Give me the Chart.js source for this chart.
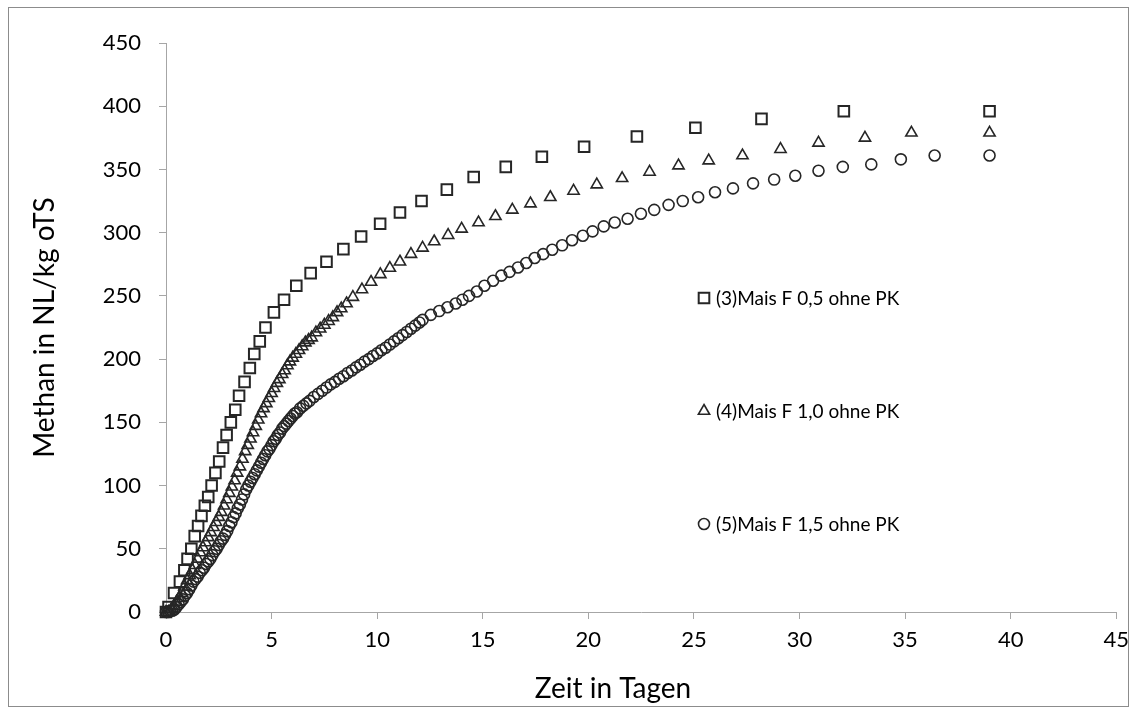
<!DOCTYPE html>
<html>
<head>
<meta charset="utf-8">
<script src="https://cdn.jsdelivr.net/npm/chart.js@4/dist/chart.umd.min.js"></script>
<style>
  html, body { margin: 0; padding: 0; background: #fff; }
  #wrap { width: 1137px; height: 715px; position: relative; }
</style>
</head>
<body>
<div id="wrap"><canvas id="myChart" width="1137" height="715"></canvas></div>
<script>
// (3) Mais F 0,5 ohne PK
const zeit3 = [0, 0.12, 0.38, 0.66, 0.87, 1.02, 1.2, 1.36, 1.52, 1.68, 1.84, 2.0, 2.16, 2.34, 2.52, 2.7, 2.87, 3.07, 3.28, 3.46, 3.72, 3.97, 4.18, 4.44, 4.71, 5.11, 5.59, 6.17, 6.85, 7.6, 8.4, 9.24, 10.14, 11.08, 12.1, 13.3, 14.57, 16.09, 17.8, 19.8, 22.3, 25.07, 28.2, 32.1, 39];
const methan3 = [0, 4, 15, 24, 33, 42, 50, 60, 68, 76, 84, 91, 100, 110, 119, 130, 140, 150, 160, 171, 182, 193, 204, 214, 225, 237, 247, 258, 268, 277, 287, 297, 307, 316, 325, 334, 344, 352, 360, 368, 376, 383, 390, 396, 396];

// (4) Mais F 1,0 ohne PK
const zeit4 = [0, 0.12, 0.25, 0.38, 0.5, 0.62, 0.75, 0.87, 1.0, 1.12, 1.25, 1.37, 1.5, 1.62, 1.75, 1.87, 2.0, 2.12, 2.25, 2.37, 2.5, 2.62, 2.75, 2.87, 3.0, 3.12, 3.25, 3.37, 3.5, 3.62, 3.75, 3.87, 4.0, 4.12, 4.25, 4.37, 4.5, 4.62, 4.75, 4.87, 5.0, 5.12, 5.25, 5.37, 5.5, 5.62, 5.75, 5.87, 6.0, 6.15, 6.3, 6.45, 6.6, 6.75, 6.9, 7.1, 7.3, 7.5, 7.7, 7.9, 8.1, 8.3, 8.55, 8.85, 9.28, 9.71, 10.15, 10.6, 11.08, 11.6, 12.15, 12.7, 13.36, 14.0, 14.8, 15.6, 16.4, 17.26, 18.2, 19.3, 20.4, 21.6, 22.9, 24.27, 25.7, 27.3, 29.1, 30.9, 33.1, 35.3, 39];
const methan4 = [0, 0, 2, 5, 8, 11, 15, 20, 25, 29, 33, 37, 42, 47, 51, 55, 59, 63, 67, 71, 75, 79, 84, 89, 94, 99, 104, 110, 115, 121, 127, 132, 137, 142, 147, 152, 157, 161, 165, 169, 173, 177, 181, 184, 188, 191, 195, 198, 201, 204, 207, 210, 213, 215, 217, 221, 224, 227, 230, 233, 237, 240, 244, 249, 255, 261, 267, 272, 277, 283, 288, 293, 298, 303, 308, 313, 318, 323, 328, 333, 338, 343, 348, 353, 357, 361, 366, 371, 375, 379, 379];

// (5) Mais F 1,5 ohne PK
const zeit5 = [0, 0.1, 0.2, 0.3, 0.4, 0.5, 0.6, 0.7, 0.8, 0.9, 1.0, 1.1, 1.2, 1.3, 1.4, 1.5, 1.6, 1.7, 1.8, 1.9, 2.0, 2.1, 2.2, 2.3, 2.4, 2.5, 2.6, 2.7, 2.8, 2.9, 3.0, 3.1, 3.2, 3.3, 3.4, 3.5, 3.6, 3.7, 3.8, 3.9, 4.0, 4.1, 4.2, 4.3, 4.4, 4.5, 4.6, 4.7, 4.8, 4.9, 5.0, 5.1, 5.2, 5.3, 5.4, 5.5, 5.6, 5.7, 5.8, 5.9, 6.0, 6.1, 6.2, 6.35, 6.5, 6.65, 6.8, 7.0, 7.2, 7.4, 7.6, 7.8, 8.0, 8.2, 8.4, 8.6, 8.8, 9.0, 9.2, 9.4, 9.6, 9.8, 10.0, 10.2, 10.4, 10.6, 10.8, 11.0, 11.2, 11.4, 11.6, 11.8, 12.0, 12.15, 12.54, 12.94, 13.33, 13.72, 14.04, 14.35, 14.72, 15.08, 15.49, 15.88, 16.27, 16.67, 17.06, 17.46, 17.86, 18.29, 18.76, 19.23, 19.74, 20.2, 20.73, 21.25, 21.86, 22.49, 23.12, 23.8, 24.47, 25.2, 26.0, 26.85, 27.8, 28.8, 29.8, 30.9, 32.05, 33.4, 34.8, 36.4, 39];
const methan5 = [0, 0, 1, 1, 2, 4, 6, 8, 10, 13, 15, 18, 21, 24, 26, 28, 31, 33, 35, 38, 40, 42, 45, 48, 50, 53, 56, 58, 61, 64, 68, 71, 75, 78, 82, 85, 89, 93, 97, 100, 103, 106, 109, 112, 115, 118, 121, 124, 127, 129, 132, 135, 137, 140, 142, 145, 147, 149, 151, 153, 155, 157, 158, 161, 163, 165, 167, 170, 172.5, 175, 177.5, 180, 182, 184.5, 186.5, 189, 191, 193.5, 195.5, 198, 200, 202.5, 204.5, 207, 209, 211.5, 214, 216.5, 219, 221.5, 224, 226.5, 229, 231, 235, 238, 241, 244, 247, 250, 253.5, 258, 262, 266, 269, 272.5, 276, 280, 283, 286.5, 290, 294, 297.6, 301, 305, 308, 311, 315, 318, 322, 325, 328, 332, 335, 339, 342, 345, 349, 352, 354, 358, 361, 361];

const seriesNames = ['(3)Mais F 0,5 ohne PK', '(4)Mais F 1,0 ohne PK', '(5)Mais F 1,5 ohne PK'];
const xTitle = 'Zeit in Tagen';
const yTitle = 'Methan in NL/kg oTS';

const FONT = 'Lato, "Open Sans", sans-serif';
const INK = '#262626';

function toPoints(xs, ys) {
    return xs.map((x, i) => ({ x: x, y: ys[i] }));
}

const legendPos = [
    { x: 704, y: 298 },
    { x: 704, y: 411 },
    { x: 704, y: 524 }
];

const decorPlugin = {
    id: 'decor',
    beforeDraw(chart) {
        const ctx = chart.ctx;
        ctx.save();
        ctx.fillStyle = '#fff';
        ctx.fillRect(0, 0, chart.width, chart.height);
        ctx.strokeStyle = '#8c8c8c';
        ctx.lineWidth = 1;
        ctx.strokeRect(8.5, 7.5, 1120, 699);
        ctx.restore();
    },
    afterDraw(chart) {
        const ctx = chart.ctx;
        const area = chart.chartArea;
        ctx.save();
        ctx.fillStyle = '#000';
        ctx.font = '28px ' + FONT;
        ctx.textAlign = 'center';
        ctx.textBaseline = 'middle';
        ctx.fillText(xTitle, 613, 689);
        ctx.translate(45, (area.top + area.bottom) / 2);
        ctx.rotate(-Math.PI / 2);
        ctx.fillText(yTitle, 0, 0);
        ctx.restore();

        // legend inside the plot
        ctx.save();
        chart.data.datasets.forEach((ds, i) => {
            const p = legendPos[i];
            ctx.strokeStyle = ds.borderColor;
            ctx.fillStyle = 'rgba(0,0,0,0)';
            ctx.lineWidth = ds.borderWidth;
            Chart.helpers.drawPoint(ctx, {
                pointStyle: ds.pointStyle,
                radius: ds.pointRadius,
                borderWidth: ds.borderWidth
            }, p.x, p.y);
            ctx.fillStyle = '#000';
            ctx.font = '19px ' + FONT;
            ctx.textAlign = 'left';
            ctx.textBaseline = 'middle';
            ctx.fillText(seriesNames[i], p.x + 12, p.y + 1);
        });
        ctx.restore();
    }
};

const styles = [
    { pointStyle: 'rect', pointRadius: 7.5, borderWidth: 2 },
    { pointStyle: 'triangle', pointRadius: 6.5, borderWidth: 1.6 },
    { pointStyle: 'circle', pointRadius: 5.5, borderWidth: 1.6 }
];
const xs = [zeit3, zeit4, zeit5];
const ys = [methan3, methan4, methan5];

const ctx = document.getElementById('myChart').getContext('2d');
const myChart = new Chart(ctx, {
    type: 'scatter',
    data: {
        datasets: seriesNames.map((name, i) => ({
            label: name,
            data: toPoints(xs[i], ys[i]),
            pointStyle: styles[i].pointStyle,
            pointRadius: styles[i].pointRadius,
            pointHoverRadius: styles[i].pointRadius,
            borderWidth: styles[i].borderWidth,
            borderColor: INK,
            backgroundColor: 'rgba(0,0,0,0)',
            showLine: false,
            clip: false
        }))
    },
    options: {
        responsive: false,
        animation: false,
        layout: { padding: { top: 43, right: 18, left: 0, bottom: 0 } },
        plugins: {
            legend: { display: false },
            tooltip: { enabled: false }
        },
        scales: {
            x: {
                type: 'linear',
                min: 0,
                max: 45,
                ticks: { stepSize: 5, color: '#000', font: { family: FONT, size: 22 }, padding: 8, maxRotation: 0 },
                grid: { drawOnChartArea: false, tickLength: 7, color: '#a6a6a6' },
                border: { color: '#a6a6a6', width: 1 },
                afterFit: (scale) => { scale.height = 103; }
            },
            y: {
                min: 0,
                max: 450,
                ticks: { stepSize: 50, color: '#000', font: { family: FONT, size: 22 }, padding: 18 },
                grid: { drawOnChartArea: false, tickLength: 7, color: '#a6a6a6' },
                border: { color: '#a6a6a6', width: 1 },
                afterFit: (scale) => { scale.width = 166; }
            }
        }
    },
    plugins: [decorPlugin]
});
</script>
</body>
</html>
